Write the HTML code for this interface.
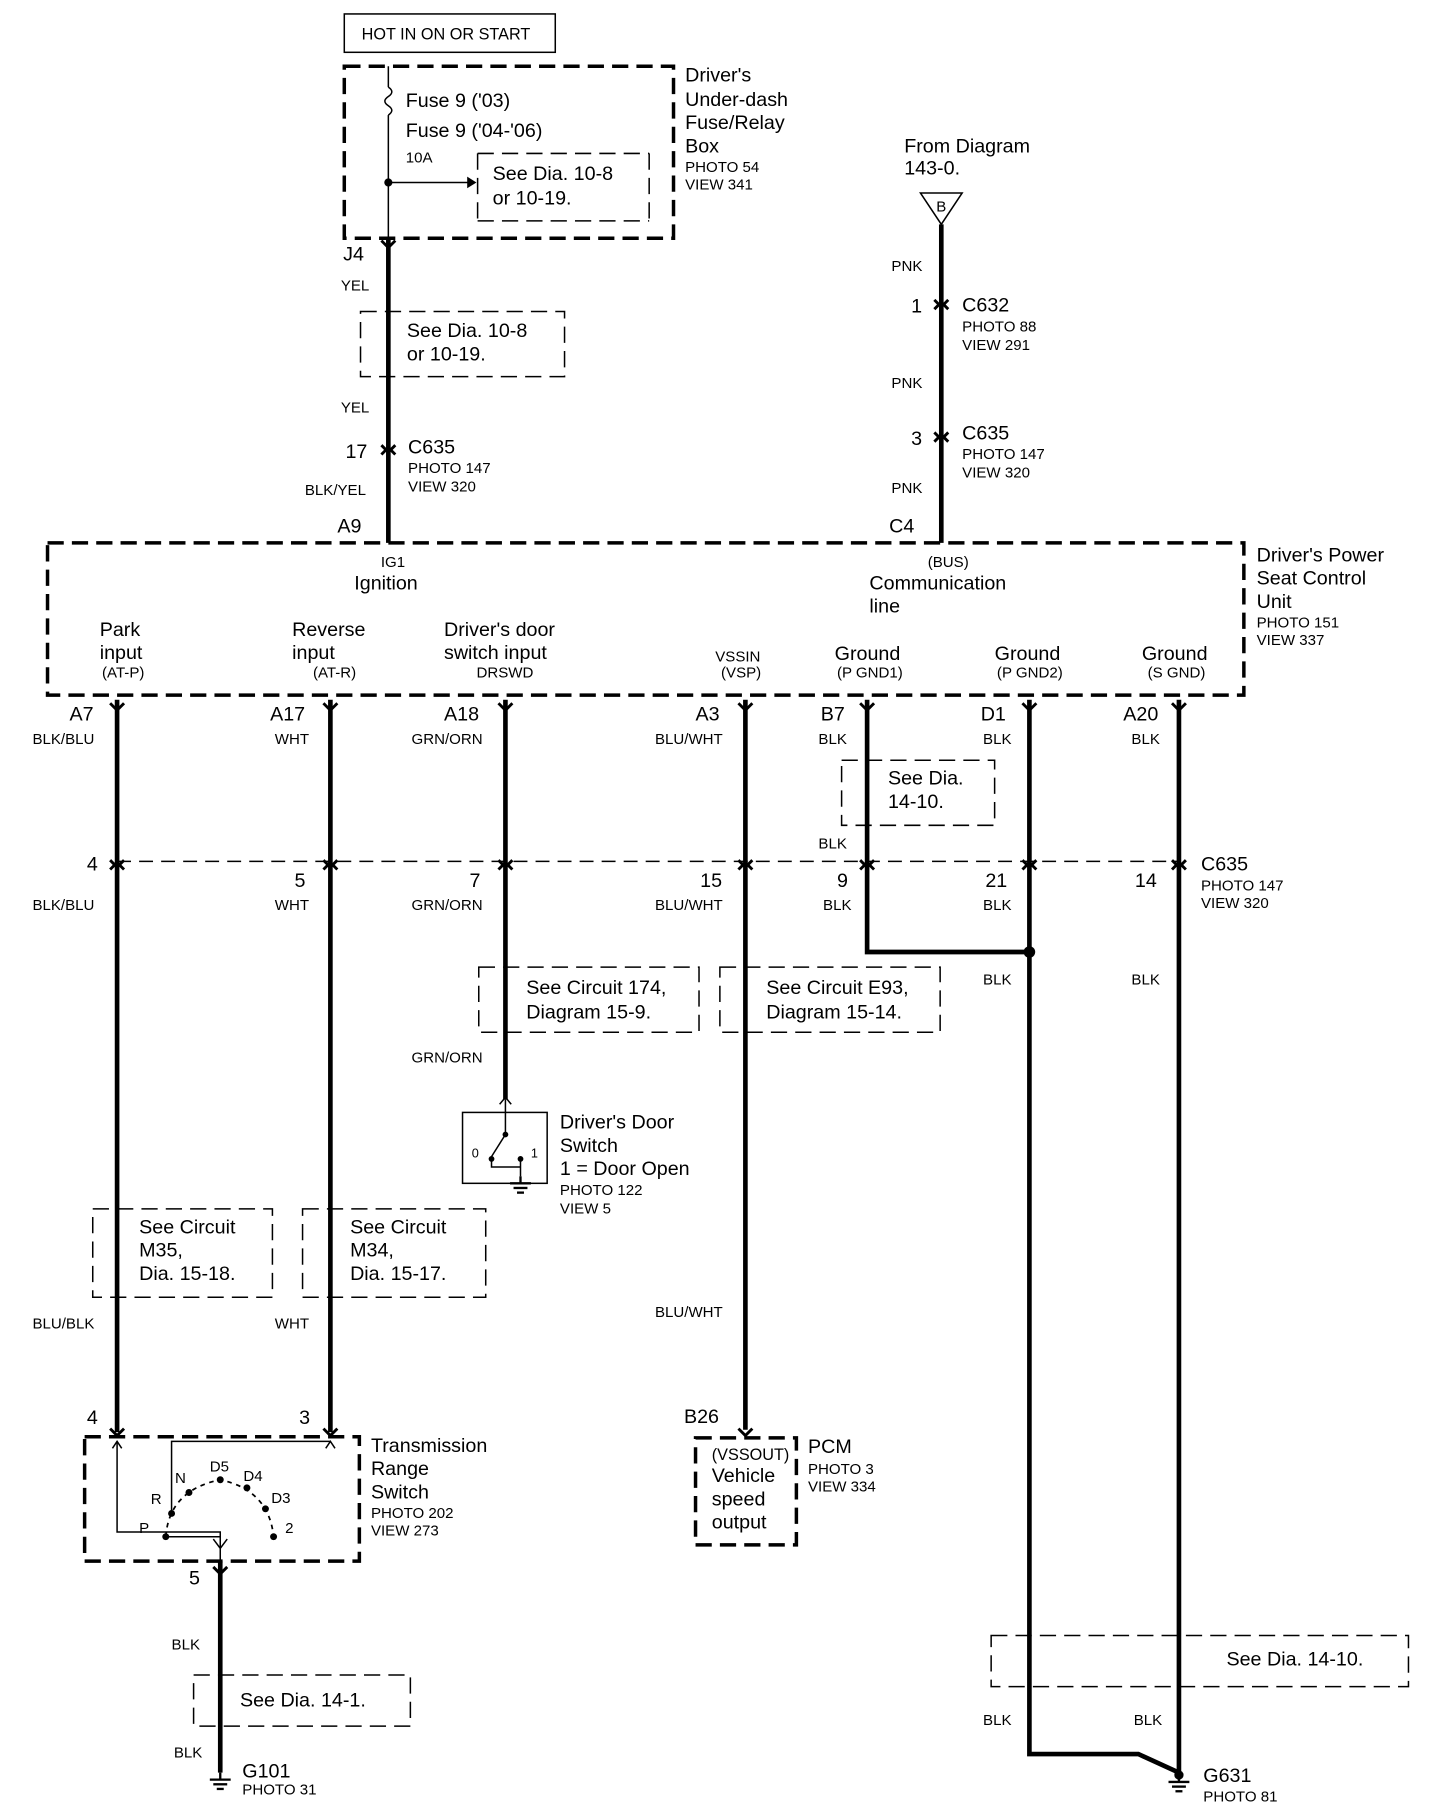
<!DOCTYPE html>
<html><head><meta charset="utf-8"><style>
html,body{margin:0;padding:0;background:#fff;}
svg{display:block;}
text{font-family:"Liberation Sans",sans-serif;fill:#000;}
.m{font-size:17px;}
.s{font-size:13px;}
.w{stroke:#000;stroke-width:4;fill:none;}
.t{stroke:#000;stroke-width:1.3;fill:none;}
.d{stroke:#000;stroke-width:1.3;fill:none;stroke-dasharray:14,7;}
.D{stroke:#000;stroke-width:3;fill:none;stroke-dasharray:14,7;}
</style></head><body>
<svg width="1456" height="1818" viewBox="0 0 1256 1564" preserveAspectRatio="none" xmlns="http://www.w3.org/2000/svg">
<defs>
<g id="cf"><path d="M-6,-6 L0,0 L6,-6" stroke="#000" stroke-width="2.5" fill="none"/><path d="M-6,2 L0,-4 L6,2" stroke="#000" stroke-width="2.5" fill="none"/></g>
<g id="ff"><path d="M-6,-5 L0,1 L6,-5" stroke="#000" stroke-width="2.5" fill="none"/></g>
<g id="gnd"><line x1="0" y1="0" x2="0" y2="6" stroke="#000" stroke-width="2"/><line x1="-9" y1="6" x2="9" y2="6" stroke="#000" stroke-width="2"/><line x1="-6" y1="10" x2="6" y2="10" stroke="#000" stroke-width="2"/><line x1="-3" y1="14" x2="3" y2="14" stroke="#000" stroke-width="2"/></g>
</defs>

<rect x="297" y="12" width="182" height="33" class="t" stroke-width="2"/>
<text x="312" y="34" class="s" style="font-size:14px">HOT IN ON OR START</text>
<rect x="297" y="57" width="284" height="148" class="D"/>
<line x1="335" y1="57" x2="335" y2="75" class="t" stroke-width="2"/>
<path d="M335,75 q6,4 0,8 q-6,4 0,8 q6,4 0,8" class="t" stroke-width="2"/>
<line x1="335" y1="99" x2="335" y2="205" class="t" stroke-width="2"/>
<circle cx="335" cy="157" r="3.5"/>
<line x1="335" y1="157" x2="405" y2="157" class="t" stroke-width="2"/>
<path d="M403,152 L411,157 L403,162 Z"/>
<text x="350" y="92" class="m">Fuse 9 ('03)</text>
<text x="350" y="118" class="m">Fuse 9 ('04-'06)</text>
<text x="350" y="140" class="s">10A</text>
<path d="M412,132 H560 M412,132 V190 M560,132 V190 M412,190 H560" class="d"/>
<text x="425" y="155" class="m">See Dia. 10-8</text>
<text x="425" y="176" class="m">or 10-19.</text>
<text x="591" y="70" class="m">Driver's</text>
<text x="591" y="91" class="m">Under-dash</text>
<text x="591" y="111" class="m">Fuse/Relay</text>
<text x="591" y="131" class="m">Box</text>
<text x="591" y="148" class="s">PHOTO 54</text>
<text x="591" y="163" class="s">VIEW 341</text>

<text x="296" y="224" class="m">J4</text>
<line x1="335" y1="205" x2="335" y2="467" class="w"/>
<use href="#ff" x="335" y="212"/>
<text x="294" y="250" class="s">YEL</text>
<rect x="311" y="268" width="176" height="56" class="d"/>
<text x="351" y="290" class="m">See Dia. 10-8</text>
<text x="351" y="310" class="m">or 10-19.</text>
<text x="294" y="355" class="s">YEL</text>
<text x="298" y="394" class="m">17</text>
<use href="#cf" x="335" y="389"/>
<text x="352" y="390" class="m">C635</text>
<text x="352" y="407" class="s">PHOTO 147</text>
<text x="352" y="423" class="s">VIEW 320</text>
<text x="263" y="426" class="s">BLK/YEL</text>
<text x="291" y="458" class="m">A9</text>

<text x="780" y="131" class="m">From Diagram</text>
<text x="780" y="150" class="m">143-0.</text>
<path d="M794,166 L830,166 L812,193 Z" class="t" stroke-width="2"/>
<text x="812" y="182" class="s" text-anchor="middle">B</text>
<line x1="812" y1="193" x2="812" y2="467" class="w"/>
<text x="769" y="233" class="s">PNK</text>
<text x="786" y="269" class="m">1</text>
<use href="#cf" x="812" y="264"/>
<text x="830" y="268" class="m">C632</text>
<text x="830" y="285" class="s">PHOTO 88</text>
<text x="830" y="301" class="s">VIEW 291</text>
<text x="769" y="334" class="s">PNK</text>
<text x="786" y="383" class="m">3</text>
<use href="#cf" x="812" y="378"/>
<text x="830" y="378" class="m">C635</text>
<text x="830" y="395" class="s">PHOTO 147</text>
<text x="830" y="411" class="s">VIEW 320</text>
<text x="769" y="424" class="s">PNK</text>
<text x="767" y="458" class="m">C4</text>

<rect x="41" y="467" width="1032" height="131" class="D"/>
<text x="339" y="488" class="s" text-anchor="middle">IG1</text>
<text x="333" y="507" class="m" text-anchor="middle">Ignition</text>
<text x="818" y="488" class="s" text-anchor="middle">(BUS)</text>
<text x="750" y="507" class="m">Communication</text>
<text x="750" y="527" class="m">line</text>
<text x="1084" y="483" class="m">Driver's Power</text>
<text x="1084" y="503" class="m">Seat Control</text>
<text x="1084" y="523" class="m">Unit</text>
<text x="1084" y="540" class="s">PHOTO 151</text>
<text x="1084" y="555" class="s">VIEW 337</text>
<text x="86" y="547" class="m">Park</text><text x="86" y="567" class="m">input</text><text x="88" y="583" class="s">(AT-P)</text>
<text x="252" y="547" class="m">Reverse</text><text x="252" y="567" class="m">input</text><text x="270" y="583" class="s">(AT-R)</text>
<text x="383" y="547" class="m">Driver's door</text><text x="383" y="567" class="m">switch input</text><text x="411" y="583" class="s">DRSWD</text>
<text x="617" y="569" class="s">VSSIN</text><text x="622" y="583" class="s">(VSP)</text>
<text x="720" y="568" class="m">Ground</text><text x="722" y="583" class="s">(P GND1)</text>
<text x="858" y="568" class="m">Ground</text><text x="860" y="583" class="s">(P GND2)</text>
<text x="985" y="568" class="m">Ground</text><text x="990" y="583" class="s">(S GND)</text>

<text x="60" y="620" class="m">A7</text>
<text x="233" y="620" class="m">A17</text>
<text x="383" y="620" class="m">A18</text>
<text x="600" y="620" class="m">A3</text>
<text x="708" y="620" class="m">B7</text>
<text x="846" y="620" class="m">D1</text>
<text x="969" y="620" class="m">A20</text>

<line x1="101" y1="602" x2="101" y2="1232" class="w"/>
<line x1="285" y1="602" x2="285" y2="1232" class="w"/>
<line x1="436" y1="602" x2="436" y2="946" class="w"/>
<line x1="643" y1="602" x2="643" y2="1230" class="w"/>
<path d="M748,602 V819 H888" class="w"/>
<path d="M888,602 V1509 H982 L1017,1525" class="w"/>
<line x1="1017" y1="602" x2="1017" y2="1525" class="w"/>
<circle cx="888" cy="819" r="5"/>
<g>
<use href="#ff" x="101" y="610"/><use href="#ff" x="285" y="610"/><use href="#ff" x="436" y="610"/><use href="#ff" x="643" y="610"/><use href="#ff" x="748" y="610"/><use href="#ff" x="888" y="610"/><use href="#ff" x="1017" y="610"/>
</g>
<text x="28" y="640" class="s">BLK/BLU</text>
<text x="237" y="640" class="s">WHT</text>
<text x="355" y="640" class="s">GRN/ORN</text>
<text x="565" y="640" class="s">BLU/WHT</text>
<text x="706" y="640" class="s">BLK</text>
<text x="848" y="640" class="s">BLK</text>
<text x="976" y="640" class="s">BLK</text>
<rect x="726" y="654" width="132" height="56" class="d"/>
<text x="766" y="675" class="m">See Dia.</text>
<text x="766" y="695" class="m">14-10.</text>
<text x="706" y="730" class="s">BLK</text>

<line x1="101" y1="741" x2="1017" y2="741" class="t" stroke-dasharray="12,7"/>
<g>
<use href="#cf" x="101" y="746"/><use href="#cf" x="285" y="746"/><use href="#cf" x="436" y="746"/><use href="#cf" x="643" y="746"/><use href="#cf" x="748" y="746"/><use href="#cf" x="888" y="746"/><use href="#cf" x="1017" y="746"/>
</g>
<text x="75" y="749" class="m">4</text>
<text x="254" y="763" class="m">5</text>
<text x="405" y="763" class="m">7</text>
<text x="604" y="763" class="m">15</text>
<text x="722" y="763" class="m">9</text>
<text x="850" y="763" class="m">21</text>
<text x="979" y="763" class="m">14</text>
<text x="1036" y="749" class="m">C635</text>
<text x="1036" y="766" class="s">PHOTO 147</text>
<text x="1036" y="781" class="s">VIEW 320</text>
<text x="28" y="783" class="s">BLK/BLU</text>
<text x="237" y="783" class="s">WHT</text>
<text x="355" y="783" class="s">GRN/ORN</text>
<text x="565" y="783" class="s">BLU/WHT</text>
<text x="710" y="783" class="s">BLK</text>
<text x="848" y="783" class="s">BLK</text>
<text x="848" y="847" class="s">BLK</text>
<text x="976" y="847" class="s">BLK</text>

<rect x="413" y="832" width="190" height="56" class="d"/>
<text x="454" y="855" class="m">See Circuit 174,</text>
<text x="454" y="876" class="m">Diagram 15-9.</text>
<rect x="621" y="832" width="190" height="56" class="d"/>
<text x="661" y="855" class="m">See Circuit E93,</text>
<text x="661" y="876" class="m">Diagram 15-14.</text>
<text x="355" y="914" class="s">GRN/ORN</text>

<path d="M431,950 L436,944 L441,950" class="t" stroke-width="2"/>
<rect x="399" y="957" width="73" height="61" class="t" stroke-width="3"/>
<line x1="436" y1="946" x2="436" y2="975" class="t" stroke-width="2"/>
<circle cx="436" cy="976" r="2.5"/>
<line x1="436" y1="976" x2="424" y2="995" class="t" stroke-width="2"/>
<circle cx="424" cy="997" r="2.5"/><circle cx="449" cy="997" r="2.5"/>
<text x="407" y="996" class="s" style="font-size:11px">0</text>
<text x="458" y="996" class="s" style="font-size:11px">1</text>
<path d="M449,997 V1012 M424,997 V1004 H449" class="t" stroke-width="1.5"/>
<use href="#gnd" x="449" y="1012"/>
<text x="483" y="971" class="m">Driver's Door</text>
<text x="483" y="991" class="m">Switch</text>
<text x="483" y="1011" class="m">1 = Door Open</text>
<text x="483" y="1028" class="s">PHOTO 122</text>
<text x="483" y="1044" class="s">VIEW 5</text>

<rect x="80" y="1040" width="155" height="76" class="d"/>
<text x="120" y="1061" class="m">See Circuit</text><text x="120" y="1081" class="m">M35,</text><text x="120" y="1101" class="m">Dia. 15-18.</text>
<rect x="261" y="1040" width="158" height="76" class="d"/>
<text x="302" y="1061" class="m">See Circuit</text><text x="302" y="1081" class="m">M34,</text><text x="302" y="1101" class="m">Dia. 15-17.</text>
<text x="28" y="1143" class="s">BLU/BLK</text>
<text x="237" y="1143" class="s">WHT</text>
<text x="565" y="1133" class="s">BLU/WHT</text>

<text x="75" y="1225" class="m">4</text>
<text x="258" y="1225" class="m">3</text>
<text x="590" y="1224" class="m">B26</text>
<use href="#ff" x="101" y="1234"/><use href="#ff" x="285" y="1234"/><use href="#ff" x="643" y="1234"/>

<rect x="73" y="1236" width="237" height="107" class="D"/>
<path d="M101,1240 V1318 H190 V1343" class="t" stroke-width="1.5"/>
<path d="M97,1246 L101,1240 L105,1246" class="t" stroke-width="1.5"/>
<path d="M285,1240 H148 V1300" class="t" stroke-width="1.5"/>
<path d="M281,1246 L285,1240 L289,1246" class="t" stroke-width="1.5"/>
<path d="M143,1322 Q146,1282 190,1273 Q232,1282 236,1322" fill="none" stroke="#000" stroke-width="1.5" stroke-dasharray="4,4"/>
<circle cx="143" cy="1322" r="3"/><circle cx="148" cy="1302" r="3"/><circle cx="163" cy="1284" r="3"/><circle cx="190" cy="1273" r="3"/><circle cx="213" cy="1280" r="3"/><circle cx="229" cy="1298" r="3"/><circle cx="236" cy="1322" r="3"/>
<path d="M143,1322 H190" class="t" stroke-width="2"/>
<path d="M184,1324 L190,1332 L196,1324" class="t" stroke-width="1.5"/>
<text x="120" y="1319" class="s">P</text>
<text x="130" y="1294" class="s">R</text>
<text x="151" y="1276" class="s">N</text>
<text x="181" y="1266" class="s">D5</text>
<text x="210" y="1274" class="s">D4</text>
<text x="234" y="1293" class="s">D3</text>
<text x="246" y="1319" class="s">2</text>
<text x="320" y="1249" class="m">Transmission</text>
<text x="320" y="1269" class="m">Range</text>
<text x="320" y="1289" class="m">Switch</text>
<text x="320" y="1306" class="s">PHOTO 202</text>
<text x="320" y="1321" class="s">VIEW 273</text>

<rect x="600" y="1237" width="87" height="92" class="D"/>
<text x="614" y="1256" class="s" style="font-size:14px">(VSSOUT)</text>
<text x="614" y="1275" class="m">Vehicle</text>
<text x="614" y="1295" class="m">speed</text>
<text x="614" y="1315" class="m">output</text>
<text x="697" y="1250" class="m">PCM</text>
<text x="697" y="1268" class="s">PHOTO 3</text>
<text x="697" y="1283" class="s">VIEW 334</text>

<text x="163" y="1363" class="m">5</text>
<line x1="190" y1="1343" x2="190" y2="1525" class="w"/>
<use href="#ff" x="190" y="1353"/>
<text x="148" y="1419" class="s">BLK</text>
<rect x="167" y="1441" width="187" height="44" class="d"/>
<text x="207" y="1468" class="m">See Dia. 14-1.</text>
<text x="150" y="1512" class="s">BLK</text>
<use href="#gnd" x="190" y="1525"/>
<text x="209" y="1529" class="m">G101</text>
<text x="209" y="1544" class="s">PHOTO 31</text>

<rect x="855" y="1407" width="360" height="44" class="d"/>
<text x="1058" y="1433" class="m">See Dia. 14-10.</text>
<text x="848" y="1484" class="s">BLK</text>
<text x="978" y="1484" class="s">BLK</text>
<circle cx="1017" cy="1527" r="4"/>
<use href="#gnd" x="1017" y="1527"/>
<text x="1038" y="1533" class="m">G631</text>
<text x="1038" y="1550" class="s">PHOTO 81</text>
</svg>
</body></html>
